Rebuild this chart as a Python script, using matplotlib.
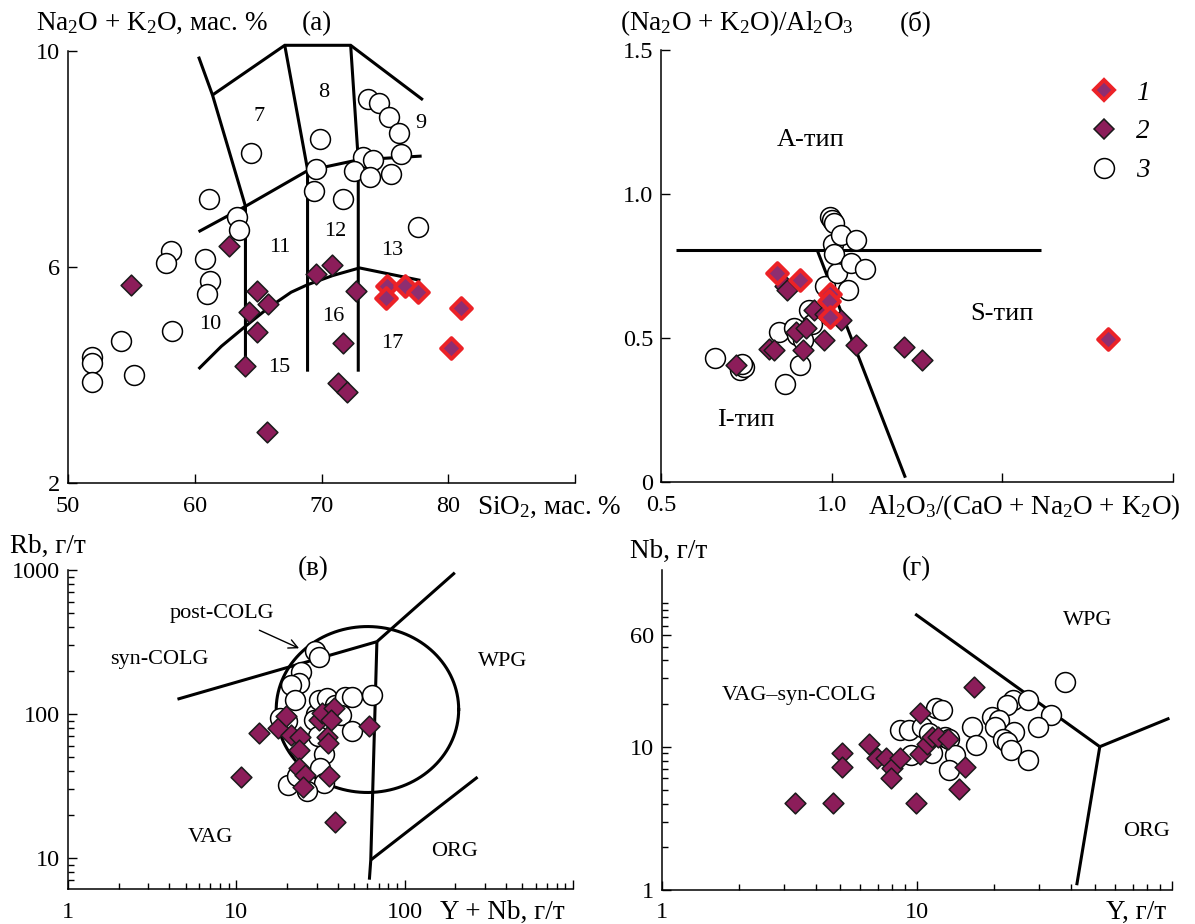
import numpy as np
import matplotlib
matplotlib.use('Agg')
import matplotlib.pyplot as plt
from matplotlib.ticker import FixedLocator, FixedFormatter, LogLocator, NullFormatter
from matplotlib.lines import Line2D

plt.rcParams['font.family'] = ['Liberation Serif', 'DejaVu Serif']
plt.rcParams['mathtext.fontset'] = 'custom'
plt.rcParams['mathtext.rm'] = 'Liberation Serif'
plt.rcParams['mathtext.it'] = 'Liberation Serif:italic'

# ---------------- data ----------------
# (а) TAS-type diagram
a_circ_si = [73.7, 74.5, 75.3, 76.1, 69.9, 64.4, 76.3, 73.3, 74.1, 69.6, 72.6, 73.8, 75.5,
             69.4, 71.7, 61.1, 63.3, 63.5, 58.1, 57.7, 60.8, 61.2, 61.0, 77.6, 58.2, 54.2,
             55.2, 51.9, 51.9, 51.9]
a_circ_alk = [9.10, 9.04, 8.78, 8.48, 8.36, 8.10, 8.09, 8.04, 7.97, 7.81, 7.78, 7.67, 7.72,
              7.41, 7.26, 7.25, 6.93, 6.68, 6.30, 6.07, 6.14, 5.73, 5.50, 6.73, 4.82, 4.62,
              3.99, 4.33, 4.22, 3.86]
a_dia_si = [62.7, 55.0, 64.9, 65.8, 64.3, 64.9, 64.0, 70.8, 69.6, 72.7, 71.7, 71.3, 72.0, 65.7]
a_dia_alk = [6.38, 5.67, 5.56, 5.32, 5.16, 4.79, 4.16, 6.04, 5.87, 5.56, 4.60, 3.85, 3.68, 2.94]
a_red_si = [75.2, 76.6, 77.6, 75.1, 81.0, 80.2]
a_red_alk = [5.65, 5.65, 5.53, 5.42, 5.24, 4.50]
a_lines = [
    [(60.3, 9.89), (61.4, 9.18), (64.0, 7.12), (64.0, 4.16)],
    [(61.4, 9.18), (67.1, 10.1), (72.3, 10.1), (78.0, 9.09)],
    [(67.1, 10.1), (68.9, 7.80), (68.9, 4.06)],
    [(72.3, 10.1), (72.9, 7.98), (72.9, 4.06)],
    [(60.3, 6.65), (64.0, 7.12), (68.9, 7.78), (72.9, 7.98), (77.9, 8.05)],
    [(60.3, 4.11), (62.1, 4.53), (64.0, 4.90), (65.8, 5.24), (67.6, 5.53), (68.9, 5.67),
     (70.9, 5.84), (73.0, 5.98), (77.8, 5.75)],
]
a_fields = {'7': (65.1, 8.78), '8': (70.2, 9.22), '9': (77.8, 8.66), '11': (66.7, 6.35),
            '12': (71.1, 6.65), '13': (75.6, 6.31), '10': (61.2, 4.93), '16': (70.9, 5.08),
            '17': (75.6, 4.59), '15': (66.7, 4.13)}

# (б) Shand diagram
b_circ_x = [0.657, 0.730, 0.742, 0.738, 0.862, 0.846, 0.891, 0.899, 0.907, 0.916, 0.933, 0.942,
            0.981, 1.017, 1.048, 0.994, 1.000, 1.008, 1.003, 1.008, 1.026, 1.071, 1.056, 1.098]
b_circ_y = [0.432, 0.388, 0.400, 0.411, 0.339, 0.521, 0.533, 0.510, 0.405, 0.492, 0.597, 0.550,
            0.680, 0.724, 0.668, 0.921, 0.909, 0.900, 0.828, 0.793, 0.857, 0.840, 0.759, 0.741]
b_dia_x = [0.719, 0.815, 0.831, 0.862, 0.869, 0.896, 0.925, 0.916, 0.949, 0.981, 0.978, 1.026,
           1.071, 1.213, 1.264]
b_dia_y = [0.405, 0.463, 0.458, 0.680, 0.666, 0.521, 0.533, 0.458, 0.597, 0.585, 0.492, 0.564,
           0.475, 0.469, 0.425]
b_red_x = [0.839, 0.907, 0.994, 0.992, 0.994, 1.809]
b_red_y = [0.724, 0.701, 0.654, 0.630, 0.573, 0.498]
b_lines = [[(0.545, 0.807), (1.612, 0.807)], [(0.957, 0.807), (1.216, 0.015)]]
b_fields = {'A-тип': (0.938, 1.187), 'S-тип': (1.50, 0.585), 'I-тип': (0.75, 0.217)}

# (в) Rb – (Y+Nb)
c_circ_x = [29.5, 31.1, 24.2, 23.6, 21.2, 22.4, 18.2, 19.9, 29.8, 31.0, 34.5, 38.6, 44.0, 48.8,
            36.3, 41.7, 48.8, 64.3, 33.0, 31.4, 33.0, 20.2, 26.2, 23.0, 29.1, 30.5]
c_circ_y = [272, 248, 197, 164, 159, 125, 94, 89, 100, 125, 129, 116, 132, 132,
            101, 99, 76, 136, 53, 42, 33, 32, 29, 37, 91, 70]
c_dia_x = [10.6, 13.6, 17.7, 19.7, 21.2, 23.9, 23.6, 23.6, 25.5, 24.8, 31.1, 32.2, 38.2, 36.7,
           34.5, 35.2, 35.7, 38.6, 61.7]
c_dia_y = [36.8, 73.6, 79.8, 96.2, 71.6, 69.8, 56.4, 42.1, 37.9, 31.4, 91.2, 101, 109.7, 91.2,
           69.8, 62.8, 37.3, 17.7, 82.8]
c_lines = [[(4.47, 126.8), (68.4, 318)], [(68.4, 318), (198.6, 958)],
           [(68.4, 318), (62.9, 9.7), (61.7, 7.08)], [(62.9, 9.7), (271, 36.5)]]
c_postcolg_center = (60.1, 107.5)
c_postcolg_radius_dec = (0.542, 0.576)
c_fields = {'syn-COLG': (3.5, 238), 'WPG': (380, 231), 'VAG': (7.06, 14.0), 'ORG': (198.6, 11.1)}

# (г) Nb – Y
d_circ_x = [38.2, 23.9, 22.5, 27.2, 33.5, 19.6, 21.0, 16.5, 20.3, 24.1, 29.7, 21.7, 22.5, 17.1,
            23.3, 27.2, 11.9, 12.5, 8.57, 9.33, 10.5, 11.1, 11.5, 9.5, 12.9, 13.4, 14.1, 13.4]
d_circ_y = [28.4, 21.2, 19.5, 21.2, 16.6, 16.2, 15.3, 13.8, 13.8, 12.7, 13.8, 11.4, 10.8, 10.3,
            9.48, 8.07, 18.5, 18.0, 13.1, 13.1, 13.8, 12.4, 8.98, 8.75, 11.7, 11.4, 8.75, 6.88]
d_dia_x = [3.31, 4.68, 9.93, 5.1, 5.1, 6.5, 6.96, 7.54, 8.0, 7.91, 8.57, 10.3, 10.3, 10.9, 11.5,
           12.1, 13.2, 15.4, 14.6, 16.7]
d_dia_y = [4.02, 4.02, 4.02, 8.98, 7.17, 10.5, 8.3, 8.3, 7.06, 6.01, 8.3, 17.3, 8.89, 10.5, 11.7,
           11.6, 11.4, 7.25, 5.04, 26.2]
d_lines = [[(9.84, 84.3), (52.1, 10.0)], [(52.1, 10.0), (97.7, 15.8)], [(52.1, 10.0), (42.3, 1.08)]]
d_fields = {'WPG': (46.5, 76.5), 'VAG\u2013syn-COLG': (3.45, 22.9), 'ORG': (79.4, 2.55)}

legend_labels = ['1', '2', '3']

# ---------------- style ----------------
W, H = 1195, 924
FS = 17.5        # tick labels
FS_LAB = 19.5    # axis labels / panel letters
FS_IN = 16       # field labels (Latin / digits)
FS_CYR = 19      # field labels (Cyrillic)
PURPLE = '#8C1D5A'
RED_EDGE = '#EC2227'
RED_FACE = '#8E2E70'
S_CIRC = 205
S_DIA = 112
LW_LINE = 2.2

fig = plt.figure(figsize=(W / 100, H / 100), dpi=100)


def box(l, r, t, b):
    return [l / W, 1 - b / H, (r - l) / W, (b - t) / H]


def ftext(x, y, s, **kw):
    kw.setdefault('fontsize', FS_LAB)
    fig.text(x / W, 1 - y / H, s, va='baseline', **kw)


def style(ax):
    for sp in ['top', 'right']:
        ax.spines[sp].set_visible(False)
    for sp in ['left', 'bottom']:
        ax.spines[sp].set_linewidth(1.1)
    ax.tick_params(which='major', direction='in', length=6.5, width=1.0, labelsize=FS)
    ax.tick_params(which='minor', direction='in', length=4.3, width=1.0)
    ax.tick_params(axis='x', which='major', pad=9)
    ax.tick_params(axis='y', which='major', pad=5.5)


def scatter_all(ax, cx, cy, dx, dy, rx=None, ry=None):
    ax.scatter(cx, cy, s=S_CIRC, marker='o', facecolor='white', edgecolor='black',
               linewidth=1.1, zorder=3, clip_on=False)
    ax.scatter(dx, dy, s=S_DIA, marker='D', facecolor=PURPLE, edgecolor='#1a1a1a',
               linewidth=1.1, zorder=4, clip_on=False)
    if rx is not None:
        ax.scatter(rx, ry, s=S_DIA, marker='D', facecolor=RED_FACE, edgecolor=RED_EDGE,
                   linewidth=2.8, zorder=5, clip_on=False)


def draw_lines(ax, lines):
    for ln in lines:
        xs, ys = zip(*ln)
        ax.plot(xs, ys, color='black', lw=LW_LINE, zorder=2, solid_capstyle='butt',
                solid_joinstyle='miter', clip_on=False)


# ---------- (а) ----------
ax = fig.add_axes(box(68, 575, 50.7, 483))
style(ax)
ax.set_xlim(50, 90)
ax.set_ylim(2, 10)
ax.xaxis.set_major_locator(FixedLocator([50, 60, 70, 80, 90]))
ax.xaxis.set_major_formatter(FixedFormatter(['50', '60', '70', '80', '']))
ax.yaxis.set_major_locator(FixedLocator([2, 6, 10]))
ax.yaxis.set_major_formatter(FixedFormatter(['2', '6', '10']))
draw_lines(ax, a_lines)
for t, (x, y) in a_fields.items():
    ax.text(x, y, t, fontsize=FS_IN, ha='center', va='center', zorder=1)
scatter_all(ax, a_circ_si, a_circ_alk, a_dia_si, a_dia_alk, a_red_si, a_red_alk)
ftext(36, 30, r'Na$_\mathregular{2}$O + K$_\mathregular{2}$O, мас. %')
ftext(302, 30, '(а)')
ftext(477, 514, r'SiO$_\mathregular{2}$, мас. %')

# ---------- (б) ----------
ax = fig.add_axes(box(661, 1173, 50, 482))
style(ax)
ax.set_xlim(0.5, 2.0)
ax.set_ylim(0, 1.5)
ax.xaxis.set_major_locator(FixedLocator([0.5, 1.0, 1.5, 2.0]))
ax.xaxis.set_major_formatter(FixedFormatter(['0.5', '1.0', '', '']))
ax.yaxis.set_major_locator(FixedLocator([0, 0.5, 1.0, 1.5]))
ax.yaxis.set_major_formatter(FixedFormatter(['0', '0.5', '1.0', '1.5']))
draw_lines(ax, b_lines)
for t, (x, y) in b_fields.items():
    ax.text(x, y, t, fontsize=FS_CYR, ha='center', va='center', zorder=1)
scatter_all(ax, b_circ_x, b_circ_y, b_dia_x, b_dia_y, b_red_x, b_red_y)
ftext(620, 30, r'(Na$_\mathregular{2}$O + K$_\mathregular{2}$O)/Al$_\mathregular{2}$O$_\mathregular{3}$')
ftext(900, 30, '(б)')
ftext(868, 514, r'Al$_\mathregular{2}$O$_\mathregular{3}$/(CaO + Na$_\mathregular{2}$O + K$_\mathregular{2}$O)')
handles = [
    Line2D([], [], ls='none', marker='D', markersize=np.sqrt(S_DIA), markerfacecolor=RED_FACE,
           markeredgecolor=RED_EDGE, markeredgewidth=2.8),
    Line2D([], [], ls='none', marker='D', markersize=np.sqrt(S_DIA), markerfacecolor=PURPLE,
           markeredgecolor='#1a1a1a', markeredgewidth=1.1),
    Line2D([], [], ls='none', marker='o', markersize=np.sqrt(S_CIRC), markerfacecolor='white',
           markeredgecolor='black', markeredgewidth=1.1),
]
ax.legend(handles, legend_labels, loc='center left', bbox_to_anchor=(1090 / W, 1 - 132 / H),
          bbox_transform=fig.transFigure, frameon=False, borderpad=0, borderaxespad=0,
          handlelength=1.0, handletextpad=0.7, labelspacing=0.5,
          prop={'family': 'Liberation Serif', 'style': 'italic', 'size': FS_LAB})

# ---------- (в) ----------
ax = fig.add_axes(box(68, 573, 570, 889))
style(ax)
ax.set_xscale('log')
ax.set_yscale('log')
ax.set_xlim(1, 1000)
ax.set_ylim(6.1, 1000)
ax.xaxis.set_major_locator(FixedLocator([1, 10, 100, 1000]))
ax.xaxis.set_major_formatter(FixedFormatter(['1', '10', '100', '']))
ax.yaxis.set_major_locator(FixedLocator([10, 100, 1000]))
ax.yaxis.set_major_formatter(FixedFormatter(['10', '100', '1000']))
for axis in (ax.xaxis, ax.yaxis):
    axis.set_minor_locator(LogLocator(base=10, subs=np.arange(2, 10)))
    axis.set_minor_formatter(NullFormatter())
draw_lines(ax, c_lines)
t = np.linspace(0, 2 * np.pi, 400)
cx, cy = c_postcolg_center
rx, ry = c_postcolg_radius_dec
ax.plot(10 ** (np.log10(cx) + rx * np.cos(t)), 10 ** (np.log10(cy) + ry * np.sin(t)),
        color='black', lw=LW_LINE, zorder=2)
for tt, (x, y) in c_fields.items():
    ax.text(x, y, tt, fontsize=FS_IN, ha='center', va='center', zorder=1)
ax.annotate('post-COLG', xy=(23.6, 286), xytext=(8.25, 500), fontsize=FS_IN, ha='center',
            va='center', arrowprops=dict(arrowstyle='->', color='black', lw=1.0,
                                         shrinkA=8, shrinkB=0))
scatter_all(ax, c_circ_x, c_circ_y, c_dia_x, c_dia_y)
ftext(10, 553, 'Rb, г/т')
ftext(298, 575, '(в)')
ftext(440, 919, 'Y + Nb, г/т')

# ---------- (г) ----------
ax = fig.add_axes(box(662, 1172, 570, 890))
style(ax)
ax.set_xscale('log')
ax.set_yscale('log')
ax.set_xlim(1, 100)
ax.set_ylim(1, 171)
ax.xaxis.set_major_locator(FixedLocator([1, 10, 100]))
ax.xaxis.set_major_formatter(FixedFormatter(['1', '10', '']))
ax.yaxis.set_major_locator(FixedLocator([1, 10, 60]))
ax.yaxis.set_major_formatter(FixedFormatter(['1', '10', '60']))
ax.xaxis.set_minor_locator(LogLocator(base=10, subs=np.arange(2, 10)))
ax.yaxis.set_minor_locator(LogLocator(base=10, subs=np.arange(1, 10)))
ax.xaxis.set_minor_formatter(NullFormatter())
ax.yaxis.set_minor_formatter(NullFormatter())
draw_lines(ax, d_lines)
for tt, (x, y) in d_fields.items():
    ax.text(x, y, tt, fontsize=FS_IN, ha='center', va='center', zorder=1)
scatter_all(ax, d_circ_x, d_circ_y, d_dia_x, d_dia_y)
ftext(630, 558, 'Nb, г/т')
ftext(902, 575, '(г)')
ftext(1106, 919, 'Y, г/т')

fig.savefig('out.png', dpi=100)
